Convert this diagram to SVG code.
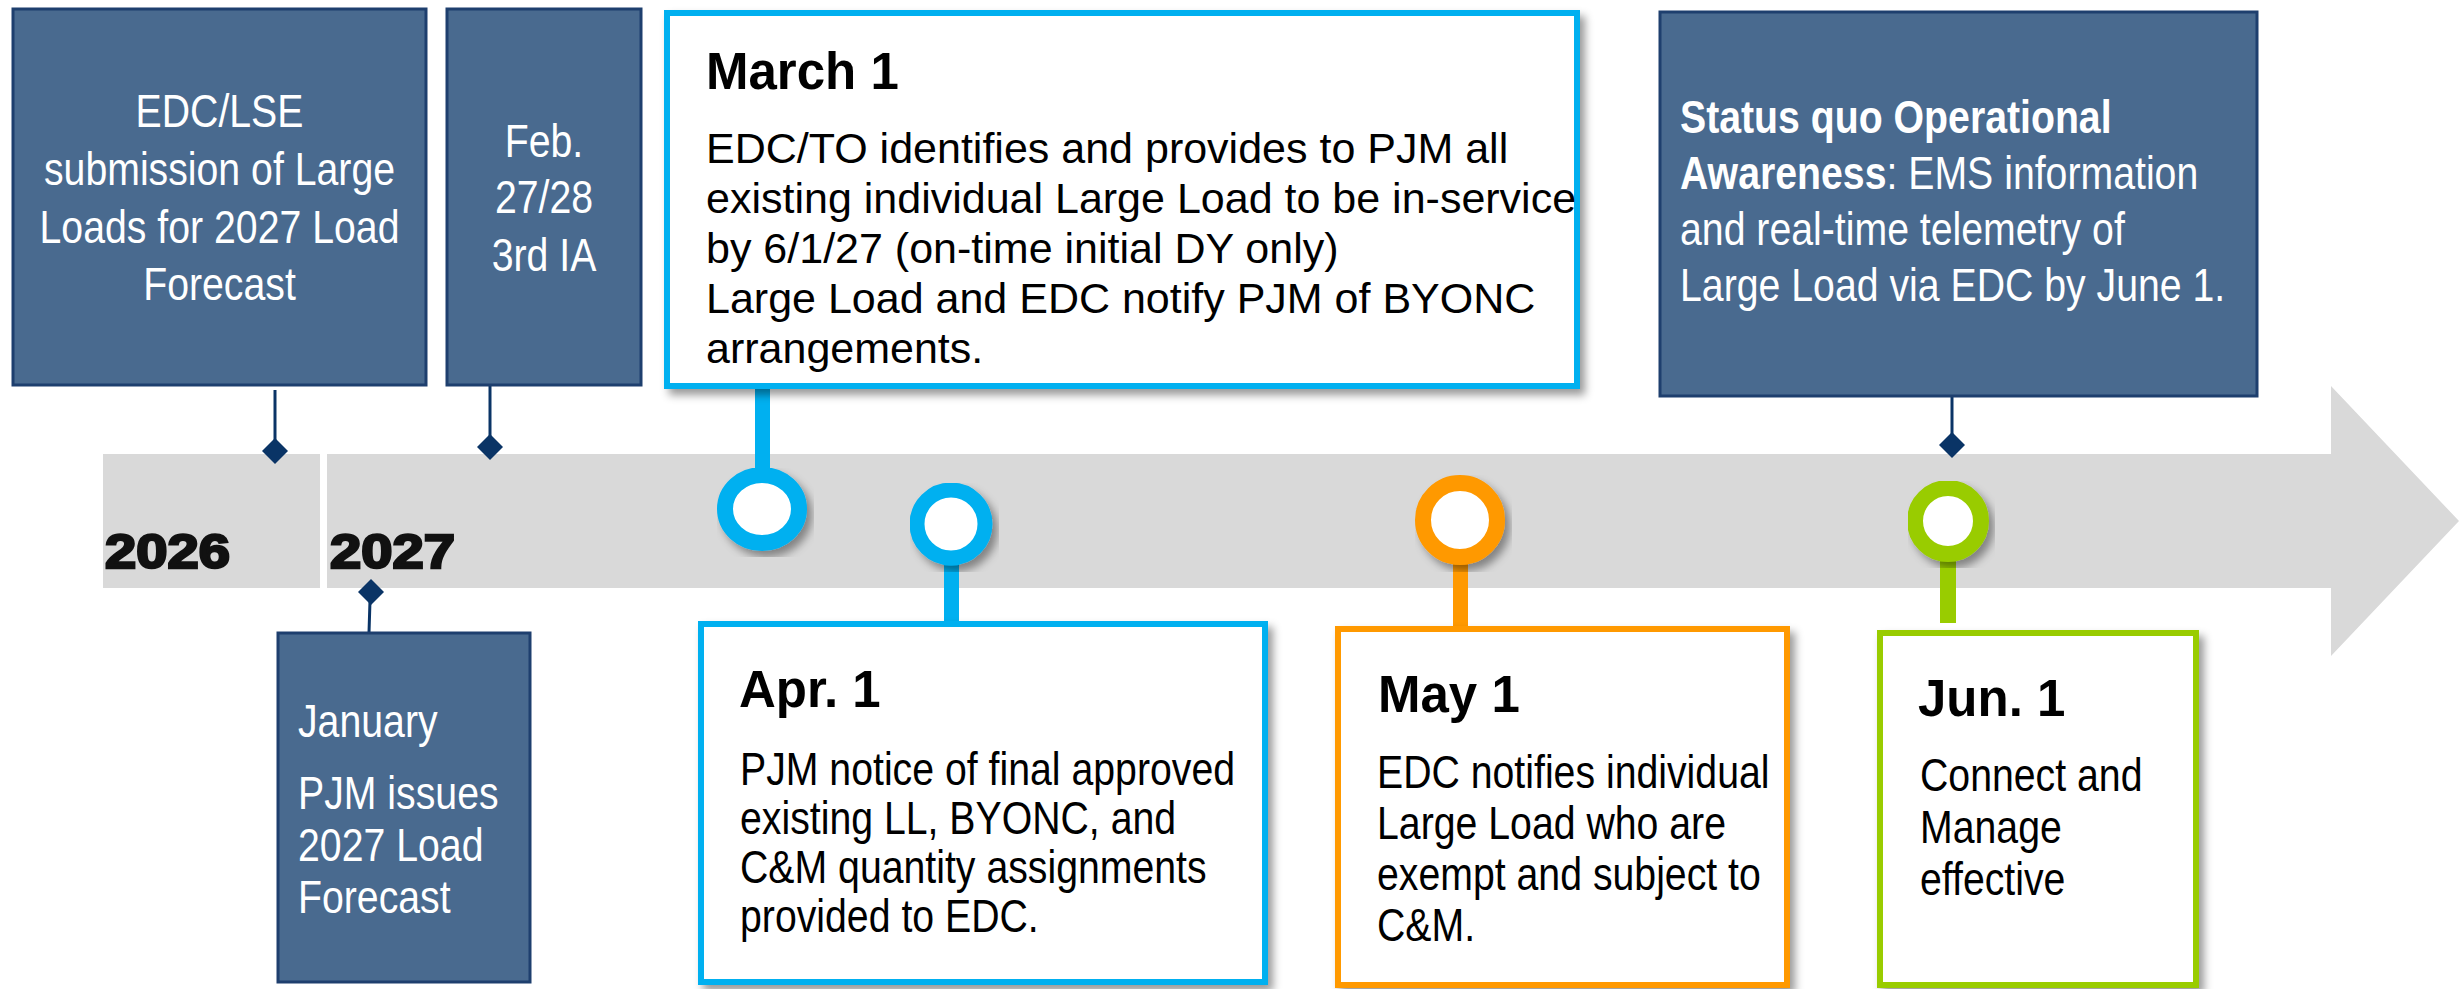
<svg xmlns="http://www.w3.org/2000/svg" width="2459" height="989" viewBox="0 0 2459 989">
  <style>
    .navy { fill: #496A8F; stroke: #1E3F6E; stroke-width: 3; }
    .card { fill: #FFFFFF; stroke-width: 6; }
    .wt { fill: #FFFFFF; font-family: "Liberation Sans", Arial, sans-serif; font-size: 47px; }
    .bk { fill: #000000; font-family: "Liberation Sans", Arial, sans-serif; font-size: 47px; }
    .head { fill: #000000; font-family: "Liberation Sans", Arial, sans-serif; font-weight: bold; font-size: 51px; }
    .body42 { fill: #000000; font-family: "Liberation Sans", Arial, sans-serif; font-size: 43px; }
    .year { fill: #111111; stroke: #111111; stroke-width: 2.5; font-family: "Liberation Sans", Arial, sans-serif; font-weight: bold; font-size: 48px; }
    .tick { stroke: #0A3466; stroke-width: 3; fill: none; }
    .dia { fill: #0A3466; }
    .bar { fill: #D9D9D9; }
  </style>
  <defs>
    <filter id="sh" x="-10%" y="-10%" width="130%" height="130%">
      <feDropShadow dx="5" dy="6" stdDeviation="4" flood-color="#000000" flood-opacity="0.4"/>
    </filter>
  </defs>

  <!-- timeline bar -->
  <g id="timeline">
    <rect class="bar" x="103" y="454" width="217" height="134"/>
    <path class="bar" d="M327,454 H2331 V386 L2459,521 L2331,656 V588 H327 Z"/>
    <text class="year" x="0" y="568" transform="translate(105 0) scale(1.17 1)">2026</text>
    <text class="year" x="0" y="568" transform="translate(330 0) scale(1.17 1)">2027</text>
  </g>

  <!-- connectors -->
  <g id="connectors">
    <line class="tick" x1="275" y1="390" x2="275" y2="442"/>
    <polygon class="dia" points="275,438 288,451 275,464 262,451"/>
    <line class="tick" x1="490" y1="379" x2="490" y2="438"/>
    <polygon class="dia" points="490,434 503,447 490,460 477,447"/>
    <line class="tick" x1="370" y1="600" x2="369" y2="633"/>
    <polygon class="dia" points="371,579 384,592 371,605 358,592"/>
    <line class="tick" x1="1952" y1="397" x2="1952" y2="436"/>
    <polygon class="dia" points="1952,432 1965,445 1952,458 1939,445"/>

    <rect x="755" y="389" width="15" height="84" fill="#00B0F0"/>
    <rect x="944" y="560" width="15" height="62" fill="#00B0F0"/>
    <rect x="1453" y="560" width="15" height="68" fill="#FF9900"/>
    <rect x="1940" y="555" width="16" height="68" fill="#99CC00"/>

    <ellipse cx="762" cy="509" rx="37" ry="34" fill="#FFFFFF" stroke="#00B0F0" stroke-width="16" filter="url(#sh)"/>
    <ellipse cx="951" cy="524" rx="34" ry="34" fill="#FFFFFF" stroke="#00B0F0" stroke-width="15" filter="url(#sh)"/>
    <ellipse cx="1460" cy="520" rx="37" ry="37" fill="#FFFFFF" stroke="#FF9900" stroke-width="16" filter="url(#sh)"/>
    <ellipse cx="1948" cy="521" rx="33" ry="33" fill="#FFFFFF" stroke="#99CC00" stroke-width="16" filter="url(#sh)"/>
  </g>

  <!-- EDC/LSE submission -->
  <g id="edc-lse">
    <rect class="navy" x="13" y="9" width="413" height="376"/>
    <g transform="translate(219.5 0) scale(0.835 1)">
      <text class="wt" x="0" y="127" text-anchor="middle">EDC/LSE</text>
      <text class="wt" x="0" y="185" text-anchor="middle">submission of Large</text>
      <text class="wt" x="0" y="243" text-anchor="middle">Loads for 2027 Load</text>
      <text class="wt" x="0" y="300" text-anchor="middle">Forecast</text>
    </g>
  </g>

  <!-- Feb 27/28 -->
  <g id="feb">
    <rect class="navy" x="447" y="9" width="194" height="376"/>
    <g transform="translate(544 0) scale(0.835 1)">
      <text class="wt" x="0" y="157" text-anchor="middle">Feb.</text>
      <text class="wt" x="0" y="213" text-anchor="middle">27/28</text>
      <text class="wt" x="0" y="271" text-anchor="middle">3rd IA</text>
    </g>
  </g>

  <!-- January -->
  <g id="january">
    <rect class="navy" x="278" y="633" width="252" height="349"/>
    <g transform="translate(298 0) scale(0.835 1)">
      <text class="wt" x="0" y="737">January</text>
      <text class="wt" x="0" y="809">PJM issues</text>
      <text class="wt" x="0" y="861">2027 Load</text>
      <text class="wt" x="0" y="913">Forecast</text>
    </g>
  </g>

  <!-- March 1 -->
  <g id="march1">
    <rect class="card" x="667" y="13" width="910" height="373" stroke="#00B0F0" filter="url(#sh)"/>
    <text class="head" x="706" y="89" font-size="46">March 1</text>
    <text class="body42" x="706" y="163">EDC/TO identifies and provides to PJM all</text>
    <text class="body42" x="706" y="213">existing individual Large Load to be in-service</text>
    <text class="body42" x="706" y="263">by 6/1/27 (on-time initial DY only)</text>
    <text class="body42" x="706" y="313">Large Load and EDC notify PJM of BYONC</text>
    <text class="body42" x="706" y="363">arrangements.</text>
  </g>

  <!-- Status quo -->
  <g id="status-quo">
    <rect class="navy" x="1660" y="12" width="597" height="384"/>
    <g transform="translate(1680 0) scale(0.835 1)">
      <text class="wt" x="0" y="133" font-weight="bold">Status quo Operational</text>
      <text class="wt" x="0" y="189"><tspan font-weight="bold">Awareness</tspan>: EMS information</text>
      <text class="wt" x="0" y="245">and real-time telemetry of</text>
      <text class="wt" x="0" y="301">Large Load via EDC by June 1.</text>
    </g>
  </g>

  <!-- Apr 1 -->
  <g id="apr1">
    <rect class="card" x="701" y="624" width="564" height="358" stroke="#00B0F0" filter="url(#sh)"/>
    <text class="head" x="739" y="707">Apr. 1</text>
    <g transform="translate(740 0) scale(0.835 1)">
      <text class="bk" x="0" y="785">PJM notice of final approved</text>
      <text class="bk" x="0" y="834">existing LL, BYONC, and</text>
      <text class="bk" x="0" y="883">C&amp;M quantity assignments</text>
      <text class="bk" x="0" y="932">provided to EDC.</text>
    </g>
  </g>

  <!-- May 1 -->
  <g id="may1">
    <rect class="card" x="1338" y="629" width="449" height="356" stroke="#FF9900" filter="url(#sh)"/>
    <text class="head" x="1378" y="712">May 1</text>
    <g transform="translate(1377 0) scale(0.835 1)">
      <text class="bk" x="0" y="788">EDC notifies individual</text>
      <text class="bk" x="0" y="839">Large Load who are</text>
      <text class="bk" x="0" y="890">exempt and subject to</text>
      <text class="bk" x="0" y="941">C&amp;M.</text>
    </g>
  </g>

  <!-- Jun 1 -->
  <g id="jun1">
    <rect class="card" x="1880" y="633" width="316" height="352" stroke="#99CC00" filter="url(#sh)"/>
    <text class="head" x="1918" y="716">Jun. 1</text>
    <g transform="translate(1920 0) scale(0.835 1)">
      <text class="bk" x="0" y="791">Connect and</text>
      <text class="bk" x="0" y="843">Manage</text>
      <text class="bk" x="0" y="895">effective</text>
    </g>
  </g>
</svg>
